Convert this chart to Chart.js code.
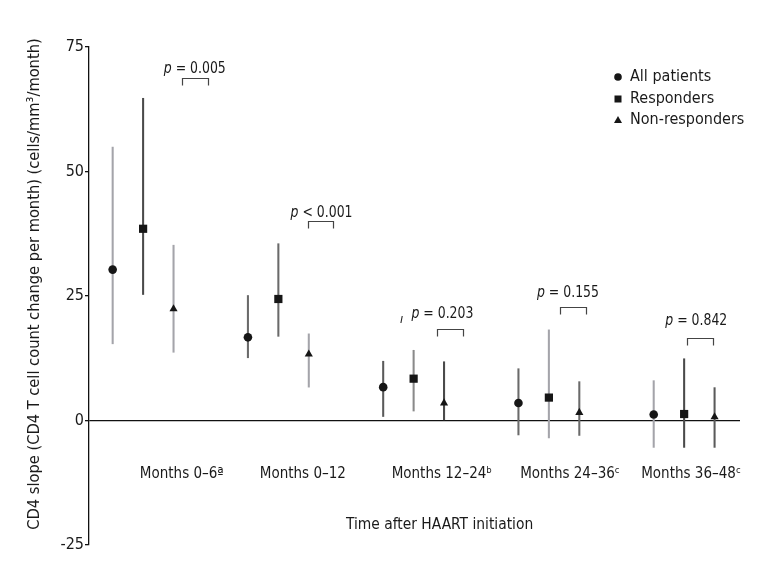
<!DOCTYPE html>
<html>
<head>
<meta charset="utf-8">
<script src="https://cdn.jsdelivr.net/npm/chart.js@4.4.1/dist/chart.umd.min.js"></script>
<style>
  html, body { margin: 0; padding: 0; background: #fff; }
  #wrap { width: 782px; height: 563px; }
</style>
</head>
<body>
<div id="wrap"><canvas id="chart" width="782" height="563"></canvas></div>
<script>
// Interval groups along the x axis
const categories = ['Months 0\u20136\u00aa', 'Months 0\u201312', 'Months 12\u201324\u1d47', 'Months 24\u201336\u1d9c', 'Months 36\u201348\u1d9c'];

// CD4 slope estimates (cells/mm3/month) with lower / upper limits
const allMean  = [30.3, 16.7, 6.7, 3.5, 1.2];
const allLow   = [15.4, 12.6, 0.8, -2.9, -5.4];
const allHigh  = [54.9, 25.1, 11.9, 10.4, 8.0];
const respMean = [38.5, 24.4, 8.4, 4.6, 1.3];
const respLow  = [25.3, 16.9, 1.9, -3.5, -5.4];
const respHigh = [64.7, 35.5, 14.1, 18.2, 12.4];
const nonMean  = [22.4, 13.3, 3.5, 1.6, 0.7];
const nonLow   = [13.7, 6.7, 0.0, -3.0, -5.4];
const nonHigh  = [35.2, 17.4, 11.8, 7.8, 6.6];

// Comparison p values (responders vs non-responders)
const pTexts = ['= 0.005', '< 0.001', '= 0.203', '= 0.155', '= 0.842'];

// y axis ticks
const yTicks = [-25, 0, 25, 50, 75];

// Annotation anchors in data units
const pTextX = [1.382, 2.319, 3.213, 4.141, 5.090];
const pTextY = [70.7, 41.8, 21.4, 25.6, 20.1];
const brX0 = [1.291, 2.220, 3.175, 4.082, 5.024];
const brX1 = [1.481, 2.405, 3.362, 4.272, 5.216];
const brY  = [68.7, 40.0, 18.3, 22.8, 16.5];
const catX = [1.286, 2.181, 3.209, 4.156, 5.051];

const FONT = "'Liberation Sans Narrow', 'DejaVu Sans Condensed', 'Roboto Condensed', sans-serif";
const LIGHT = '#a4a4aa';
const DARK = '#4a4a4a';

// error bar tones per point, as they appear in the figure
const allBarColors  = [LIGHT, '#6a6a6a', '#5a5a5a', '#6a6a6a', LIGHT];
const respBarColors = [DARK, '#6a6a6a', '#8a8a8a', LIGHT, DARK];
const nonBarColors  = [LIGHT, LIGHT, DARK, '#6a6a6a', '#5a5a5a'];

const OFF = 0.225;
const pts = (means, off) => means.map((v, i) => ({ x: i + 1 + off, y: v }));
const bars = (lo, hi, off) => lo.map((v, i) => ({ x: i + 1 + off, y: [v, hi[i]] }));

const barDs = (label, lo, hi, off, colors) => ({
  type: 'bar', label, data: bars(lo, hi, off),
  backgroundColor: colors, borderWidth: 0, barThickness: 1.4,
  grouped: false, order: 2,
});
const ptDs = (label, means, off, style, r) => ({
  type: 'scatter', label, data: pts(means, off),
  pointStyle: style, pointRadius: r, pointBackgroundColor: '#161616',
  pointBorderWidth: 0, showLine: false, order: 1,
});

// Draws labels, p-value brackets, legend and axis titles on top of the plot
const decor = {
  id: 'decor',
  afterDraw(chart) {
    const { ctx, scales: { x, y } } = chart;
    ctx.save();
    ctx.fillStyle = '#1a1a1a';
    ctx.strokeStyle = '#1a1a1a';

    // category names inside the plot area
    ctx.font = `15px ${FONT}`;
    ctx.textAlign = 'center';
    ctx.textBaseline = 'middle';
    categories.forEach((c, i) => ctx.fillText(c, x.getPixelForValue(catX[i]), y.getPixelForValue(-10.8)));

    // x axis title
    ctx.font = `15.4px ${FONT}`;
    ctx.fillText('Time after HAART initiation', x.getPixelForValue(3.192), y.getPixelForValue(-20.9));

    // p values with brackets (slightly condensed to match the figure's typeface)
    const SX = 0.84;
    pTexts.forEach((t, i) => {
      const cx = x.getPixelForValue(pTextX[i]);
      const cy = y.getPixelForValue(pTextY[i]);
      ctx.font = `italic 16.5px ${FONT}`;
      const wp = ctx.measureText('p ').width;
      ctx.font = `16.5px ${FONT}`;
      const wt = ctx.measureText(t).width;
      ctx.save();
      ctx.translate(cx, cy);
      ctx.scale(SX, 1);
      const sx = -(wp + wt) / 2;
      ctx.textAlign = 'left';
      ctx.font = `italic 16.5px ${FONT}`;
      ctx.fillText('p', sx, 0);
      ctx.font = `16.5px ${FONT}`;
      ctx.fillText(t, sx + wp, 0);
      ctx.restore();

      const x0 = Math.round(x.getPixelForValue(brX0[i])) + 0.5;
      const x1 = Math.round(x.getPixelForValue(brX1[i])) + 0.5;
      const by = Math.round(y.getPixelForValue(brY[i])) + 0.5;
      ctx.lineWidth = 1.2;
      ctx.strokeStyle = '#444';
      ctx.beginPath();
      ctx.moveTo(x0, by + 7);
      ctx.lineTo(x0, by);
      ctx.lineTo(x1, by);
      ctx.lineTo(x1, by + 7);
      ctx.stroke();
    });

    // small stray mark beside p = 0.203
    ctx.font = `italic 13px ${FONT}`;
    ctx.textAlign = 'center';
    ctx.fillText('\u0131', x.getPixelForValue(2.911), y.getPixelForValue(20.3));

    // legend
    const lx = 618, rows = [77, 99, 120];
    const names = ['All patients', 'Responders', 'Non-responders'];
    ctx.fillStyle = '#161616';
    ctx.beginPath(); ctx.arc(lx, rows[0], 3.8, 0, Math.PI * 2); ctx.fill();
    ctx.fillRect(lx - 3.5, rows[1] - 3.5, 7, 7);
    ctx.beginPath();
    ctx.moveTo(lx, rows[2] - 4); ctx.lineTo(lx + 4, rows[2] + 3); ctx.lineTo(lx - 4, rows[2] + 3);
    ctx.closePath(); ctx.fill();
    ctx.fillStyle = '#1a1a1a';
    ctx.font = `16px ${FONT}`;
    ctx.textAlign = 'left';
    names.forEach((n, i) => ctx.fillText(n, 630, rows[i]));

    // y axis title
    ctx.translate(35, 284);
    ctx.rotate(-Math.PI / 2);
    ctx.textAlign = 'center';
    ctx.font = `16.3px ${FONT}`;
    ctx.fillText('CD4 slope (CD4 T cell count change per month) (cells/mm\u00b3/month)', 0, 0);
    ctx.restore();
  },
};

new Chart(document.getElementById('chart'), {
  data: {
    datasets: [
      barDs('All patients', allLow, allHigh, -OFF, allBarColors),
      barDs('Responders', respLow, respHigh, 0, respBarColors),
      barDs('Non-responders', nonLow, nonHigh, OFF, nonBarColors),
      ptDs('All patients', allMean, -OFF, 'circle', 4.3),
      ptDs('Responders', respMean, 0, 'rect', 5.8),
      ptDs('Non-responders', nonMean, OFF, 'triangle', 4.7),
    ],
  },
  options: {
    responsive: false,
    animation: false,
    layout: { padding: { top: 47, bottom: 18, left: 0, right: 42 } },
    plugins: { legend: { display: false }, tooltip: { enabled: false } },
    scales: {
      x: { type: 'linear', display: false, min: 0.6, max: 5.413, offset: false },
      y: {
        type: 'linear', min: -25, max: 75,
        afterBuildTicks: s => { s.ticks = yTicks.map(v => ({ value: v })); },
        afterFit: s => { s.width = 89; },
        border: { display: true, color: '#111', width: 1.3 },
        grid: {
          drawOnChartArea: true,
          drawTicks: true,
          tickLength: 4,
          tickColor: '#111',
          lineWidth: 1.3,
          color: c => (c.tick && c.tick.value === 0 ? '#111' : 'rgba(0,0,0,0)'),
        },
        ticks: { color: '#1a1a1a', padding: 1, font: { family: FONT, size: 16 } },
      },
    },
  },
  plugins: [decor],
});
</script>
</body>
</html>
